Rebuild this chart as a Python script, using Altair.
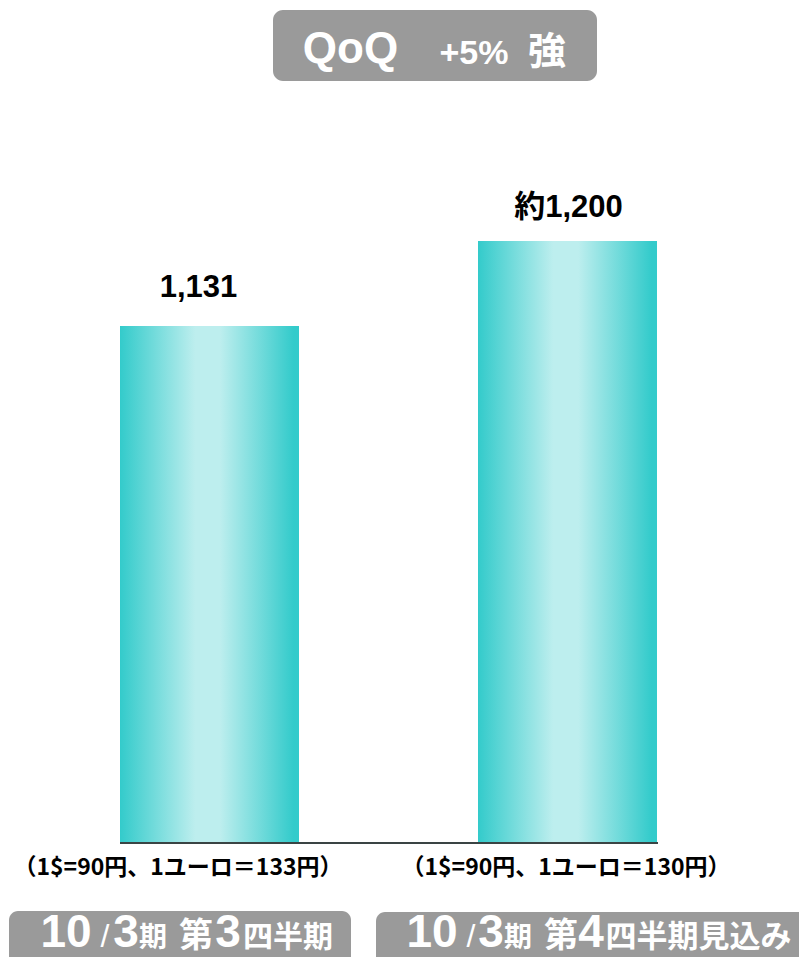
import altair as alt
import pandas as pd

# ---------------- data ----------------
categories = ["10/3期 第3四半期", "10/3期 第4四半期見込み"]
values = [1131, 1200]
value_labels = ["1,131", "約1,200"]
rate_notes = ["（1$=90円、1ユーロ＝133円）", "（1$=90円、1ユーロ＝130円）"]
title_parts = ["QoQ", "+5%", "強"]
period_parts_q3 = ["10", "/", "3", "期", "第", "3", "四半期"]
period_parts_q4 = ["10", "/", "3", "期", "第", "4", "四半期見込み"]
y_floor = 712  # value at the baseline of the (truncated) value axis

df = pd.DataFrame({"period": categories, "value": values,
                   "label": value_labels, "note": rate_notes})
one = pd.DataFrame({"k": [0]})

OFF = 8  # page margin


def px(v):
    return v - OFF


FONT = "Liberation Sans, Noto Sans CJK JP, sans-serif"
GRAY = "#9a9a9a"

gradient = alt.Gradient(
    gradient="linear",
    stops=[
        alt.GradientStop(offset=0.0, color="#33cbcb"),
        alt.GradientStop(offset=0.42, color="#bdeeee"),
        alt.GradientStop(offset=0.56, color="#bdeeee"),
        alt.GradientStop(offset=0.97, color="#33cbcb"),
        alt.GradientStop(offset=1.0, color="#33cbcb"),
    ],
    x1=0, x2=1, y1=0, y2=0,
)

x_scale = alt.Scale(domain=categories, range=[px(120), px(657)],
                    paddingInner=0.5, paddingOuter=0)
y_scale = alt.Scale(domain=[y_floor, 1200], range=[px(842), px(241)])
X = alt.X("period:N", scale=x_scale, axis=None, sort=categories)
Y = alt.Y("value:Q", scale=y_scale, axis=None)

base = alt.Chart(df)

bars = base.mark_bar(color=gradient).encode(x=X, y=Y, y2=alt.datum(y_floor))

baseline = alt.Chart(one).mark_rule(color="#3a4444", strokeWidth=2).encode(
    x=alt.value(px(120)), x2=alt.value(px(658)), y=alt.value(px(843))
)

layers = [bars, baseline]

# value labels above bars
label_offsets = [(-11, -38), (1, -33)]
for cat, (dx, dy) in zip(categories, label_offsets):
    layers.append(
        base.transform_filter(alt.datum.period == cat)
        .mark_text(dx=dx, dy=dy, fontSize=31, fontWeight="bold", font=FONT,
                   baseline="middle", color="black")
        .encode(x=X, y=Y, text="label:N")
    )

# exchange-rate notes
note_dx = [-31.5, -1.5]
for cat, dx in zip(categories, note_dx):
    layers.append(
        base.transform_filter(alt.datum.period == cat)
        .mark_text(dx=dx, fontSize=23, fontWeight="bold", font="Noto Sans CJK JP",
                   baseline="middle", color="black")
        .encode(x=X, y=alt.value(px(868)), text="note:N")
    )


def rbox(x0, x1, y0, y1, r):
    return alt.Chart(one).mark_rect(cornerRadius=r, color=GRAY).encode(
        x=alt.value(px(x0)), x2=alt.value(px(x1)),
        y=alt.value(px(y0)), y2=alt.value(px(y1)))


def piece(txt, cx, base_y, size, weight="bold"):
    return alt.Chart(pd.DataFrame({"t": [txt]})).mark_text(
        align="center", baseline="alphabetic", fontSize=size, fontWeight=weight,
        font=FONT, color="white"
    ).encode(x=alt.value(px(cx)), y=alt.value(px(base_y)), text="t:N")


# title box
layers.append(rbox(273, 597, 10, 81, 10))
title_x = [350.5, 474, 547]
title_size = [44, 34, 38]
title_base = [63, 64, 64]
for t, cx, s, by in zip(title_parts, title_x, title_size, title_base):
    layers.append(piece(t, cx, by, s))

# period boxes
layers.append(rbox(9, 351, 911, 990, 9))
layers.append(rbox(376, 830, 912, 990, 9))
sizes = [46, 32, 46, 28, 34, 46, 30]
weights = ["bold", "normal", "bold", "bold", "bold", "bold", "bold"]
q3_x = [66, 105, 126, 153, 196, 228, 288]
q4_x = [432, 471, 491, 518, 561, 591, 698.5]
q4_sizes = sizes[:-1] + [31]
for t, cx, s, w in zip(period_parts_q3, q3_x, sizes, weights):
    layers.append(piece(t, cx, 947, s, w))
for t, cx, s, w in zip(period_parts_q4, q4_x, q4_sizes, weights):
    layers.append(piece(t, cx, 947, s, w))

chart = alt.layer(*layers).properties(
    width=791, height=949, autosize="none", padding=0
).configure_view(stroke=None)

chart.save("out.html", embed_options={"renderer": "svg", "actions": False})
